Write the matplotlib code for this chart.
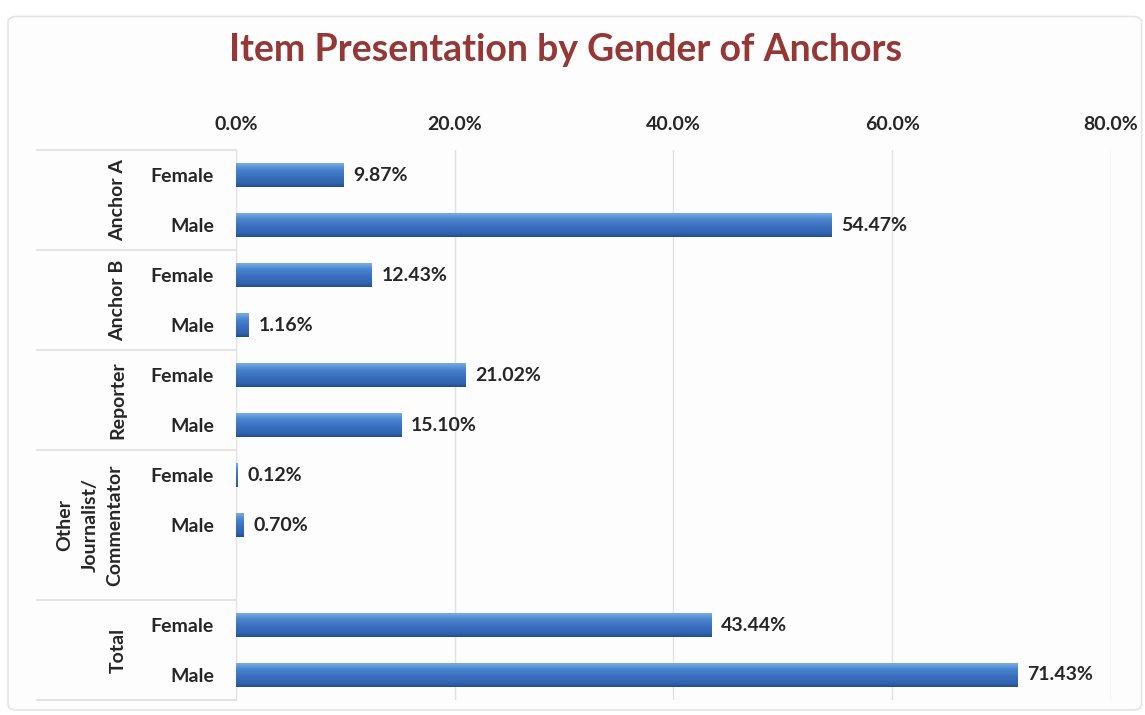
import numpy as np
import matplotlib
matplotlib.use("Agg")
import matplotlib.pyplot as plt
from matplotlib.colors import LinearSegmentedColormap
from matplotlib.patches import FancyBboxPatch
from matplotlib.transforms import blended_transform_factory

# data: share of items presented, by role and gender
groups = ["Anchor A", "Anchor B", "Reporter", "Other\nJournalist/\nCommentator", "Total"]
female = [9.87, 12.43, 21.02, 0.12, 43.44]
male = [54.47, 1.16, 15.10, 0.70, 71.43]
# the "Other" group carries one empty category slot
group_slots = [2, 2, 2, 3, 2]
x_ticks = [0, 20, 40, 60, 80]

plt.rcParams['font.family'] = ['Lato', 'DejaVu Sans']
TXT = '#262626'

fig = plt.figure(figsize=(11.45, 7.15), dpi=100)
fig.patch.set_facecolor('white')
frame = FancyBboxPatch((0.007, 0.007), 0.99, 0.97, boxstyle="round,pad=0,rounding_size=0.008",
                       transform=fig.transFigure, facecolor='#fdfdfd', edgecolor='#e4e4e4',
                       linewidth=1.2, zorder=-10)
fig.add_artist(frame)

ax = fig.add_axes([0.2061, 0.021, 0.7642, 0.769])
ax.set_zorder(1)
ax.set_facecolor('none')

# build row positions, labels and values
rows, labels, values = [], [], []
pos = 0
for g, n in enumerate(group_slots):
    for k in range(n):
        if k == 0:
            labels.append("Female"); values.append(female[g]); rows.append(pos)
        elif k == 1:
            labels.append("Male"); values.append(male[g]); rows.append(pos)
        pos += 1
n_slots = pos

# vertical shading: light highlight on top, darker lower edge
cmap = LinearSegmentedColormap.from_list(
    "bar", [(0.0, "#78ace2"), (0.25, "#4a86d0"), (0.55, "#3a70c0"),
            (0.85, "#3063b0"), (1.0, "#224d8a")])
grad = np.linspace(0, 1, 64).reshape(-1, 1)

bar_h = 0.48
bars = ax.barh(rows, values, height=bar_h, color='#3a70c0', edgecolor='none', zorder=2)
for b in bars:
    x0, y0 = b.get_x(), b.get_y()
    w, h = b.get_width(), b.get_height()
    im = ax.imshow(grad, cmap=cmap, aspect='auto', extent=(x0, x0 + w, y0 + h, y0),
                   origin='upper', zorder=3)
    im.set_clip_path(b)

for r, v in zip(rows, values):
    ax.annotate(f"{v:.2f}%", (v, r), xytext=(7, 0), textcoords='offset points',
                ha='left', va='center', fontsize=14, fontweight='bold', color=TXT)

ax.set_xlim(0, 80)
ax.set_ylim(n_slots - 0.5, -0.5)
ax.xaxis.tick_top()
ax.set_xticks(x_ticks)
ax.set_xticklabels([f"{t:.1f}%" for t in x_ticks], fontsize=14, fontweight='bold', color=TXT)
ax.tick_params(axis='x', length=0, pad=12)
ax.grid(axis='x', color='#e2e2e2', linewidth=1, zorder=0)
ax.set_yticks(rows)
ax.set_yticklabels(labels, fontsize=14, fontweight='bold', color=TXT)
ax.tick_params(axis='y', length=0, pad=16)
for s in ['top', 'right', 'bottom']:
    ax.spines[s].set_visible(False)
ax.spines['left'].set_color('#e2e2e2')

# group labels and separators in the category area
trans = blended_transform_factory(ax.transAxes, ax.transData)
edges = [-0.5]
start = 0
for g, n in enumerate(group_slots):
    mid = start + (n - 1) / 2
    xg = -0.135
    if n == 3:
        mid = start + 1
        xg = -0.167
    ax.text(xg, mid, groups[g], transform=trans, rotation=90, ha='center', va='center',
            fontsize=14, fontweight='bold', color=TXT, linespacing=1.55, multialignment='center')
    start += n
    edges.append(start - 0.5)
for e in edges:
    ax.plot([-0.227, 0], [e, e], transform=trans, color='#dedede', linewidth=1.2, clip_on=False)

fig.text(0.494, 0.93, "Item Presentation by Gender of Anchors", ha='center', va='center',
         fontsize=27, fontweight='bold', color='#953735')

fig.savefig("out.png", dpi=100)
